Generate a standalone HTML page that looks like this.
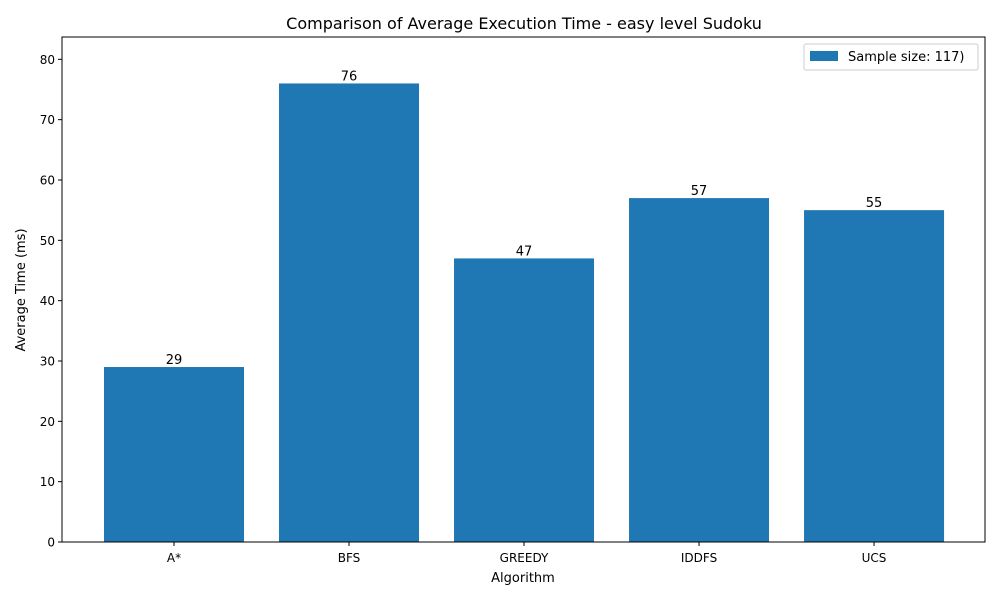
<!DOCTYPE html>
<html><head><meta charset="utf-8"><style>
body{margin:0;background:#fff;font-family:"Liberation Sans","DejaVu Sans",sans-serif}
svg text{font-family:"DejaVu Sans","Liberation Sans",sans-serif}
</style></head><body>
<svg id="chart" width="1000" height="600"></svg>
<script>
const categories=["A*","BFS","GREEDY","IDDFS","UCS"];
const values=[29,76,47,57,55];
const yTicks=[0,10,20,30,40,50,60,70,80];
const seriesLabel="Sample size: 117)";
const L=62,R=985,T=37,B=542,yMax=83.7,xMin=-0.64,xMax=4.634;
const X=v=>L+(v-xMin)/(xMax-xMin)*(R-L);
const Y=v=>B-v/yMax*(B-T);
const svg=document.getElementById('chart');
const NS="http://www.w3.org/2000/svg";
function mk(t,a,txt){const e=document.createElementNS(NS,t);for(const k in a)e.setAttribute(k,a[k]);if(txt!==undefined)e.textContent=txt;svg.appendChild(e);return e;}
let e=mk('text',{x:524,y:29,'text-anchor':'middle','font-size':16},"Comparison of Average Execution Time - easy level Sudoku");

categories.forEach((c,i)=>{
 const b=mk('rect',{x:X(i-0.4),y:Y(values[i]),width:X(i+0.4)-X(i-0.4),height:B-Y(values[i]),fill:'#1f77b4'});
 
 const lb=mk('text',{x:X(i),y:Y(values[i])-3,'text-anchor':'middle','font-size':13},String(values[i]));
 
 mk('line',{x1:X(i),x2:X(i),y1:B,y2:B+4,stroke:'#000'});
 const tl=mk('text',{x:X(i),y:B+20,'text-anchor':'middle','font-size':12},c);
 
});
yTicks.forEach(t=>{
 mk('line',{x1:L-4,x2:L,y1:Y(t),y2:Y(t),stroke:'#000'});
 const tl=mk('text',{x:L-7,y:Y(t)+4.5,'text-anchor':'end','font-size':12},String(t));
 
});
e=mk('rect',{x:L,y:T,width:R-L,height:B-T,fill:'none',stroke:'#000','stroke-width':1});

e=mk('text',{x:523,y:582,'text-anchor':'middle','font-size':13},"Algorithm");

e=mk('text',{x:25,y:290,'text-anchor':'middle','font-size':13,transform:'rotate(-90 25 290)'},"Average Time (ms)");

const g=document.createElementNS(NS,'g');svg.appendChild(g);

g.innerHTML='<rect x="804" y="44" width="174" height="26" fill="#fff" stroke="#ccc" rx="2"/><rect x="810" y="51" width="28" height="10" fill="#1f77b4"/><text x="848" y="61" font-size="13">'+seriesLabel+'</text>';
</script>
</body></html>
